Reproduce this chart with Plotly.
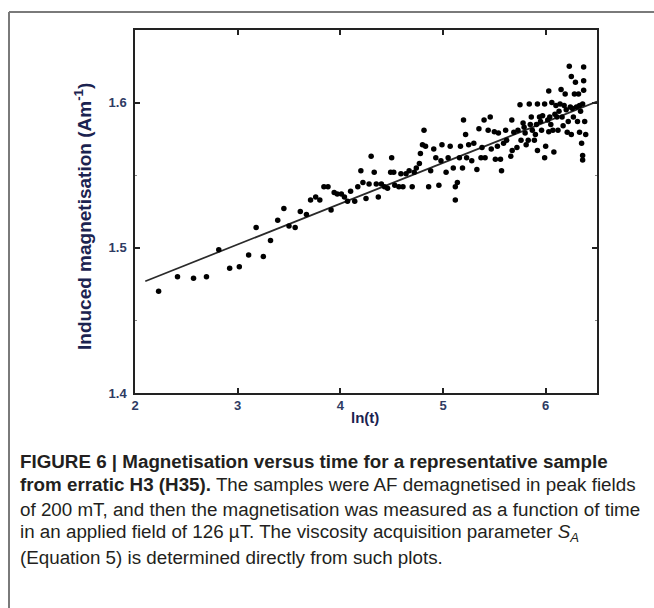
import plotly.graph_objects as go

# ---- data ----
ln_t = [2.23, 2.414, 2.57, 2.696, 2.816, 2.922, 3.016, 3.107, 3.18, 3.25, 3.32, 3.39, 3.45, 3.50, 3.56, 3.61,
        3.67, 3.71, 3.76, 3.80, 3.84, 3.88, 3.91, 3.94, 3.97, 4.01, 4.04, 4.07, 4.10, 4.14, 4.17, 4.20,
        4.22, 4.25, 4.28, 4.30, 4.33, 4.35, 4.37, 4.40, 4.43, 4.46, 4.49, 4.50, 4.52, 4.53, 4.57, 4.59,
        4.61, 4.64, 4.67, 4.70, 4.72, 4.74, 4.77, 4.78, 4.80, 4.815, 4.83, 4.86, 4.88, 4.91, 4.93, 4.96,
        4.98, 4.99, 5.03, 5.05, 5.07, 5.10, 5.12, 5.12, 5.14, 5.16, 5.17, 5.19, 5.20, 5.22, 5.23, 5.25,
        5.28, 5.30, 5.33, 5.35, 5.37, 5.38, 5.40, 5.41, 5.44, 5.46, 5.47, 5.50, 5.51, 5.53, 5.54, 5.56,
        5.57, 5.59, 5.61, 5.62, 5.66, 5.67,
        5.674, 5.69, 5.72, 5.73, 5.75, 5.76, 5.78, 5.80, 5.81, 5.83, 5.84, 5.86, 5.87, 5.89, 5.91, 5.92,
        5.92, 5.94, 5.96, 5.97, 5.99, 5.99, 6.00, 6.03, 6.03, 6.04, 6.06, 6.07, 6.08, 6.10, 6.11, 6.12,
        6.14, 6.15, 6.16, 6.18, 6.19, 6.21, 6.22, 6.23, 6.24, 6.25, 6.25, 6.27, 6.28, 6.29, 6.30, 6.31,
        6.32, 6.33, 6.34, 6.35, 6.36, 6.36, 6.36, 6.37, 6.37, 6.37, 6.38, 6.39,
        5.79, 5.85, 5.95, 6.02, 6.09, 6.13, 6.20, 6.26, 6.33, 5.90, 6.05, 6.17]
magnetisation = [1.470, 1.480, 1.479, 1.480, 1.4987, 1.486, 1.487, 1.495, 1.514, 1.494, 1.505, 1.519, 1.527,
                 1.515, 1.514, 1.525, 1.523, 1.533, 1.535, 1.533, 1.542, 1.542, 1.526, 1.538, 1.537, 1.537,
                 1.535, 1.532, 1.539, 1.532, 1.542, 1.553, 1.545, 1.534, 1.544, 1.563, 1.552, 1.544, 1.535,
                 1.544, 1.542, 1.541, 1.552, 1.562, 1.552, 1.543, 1.542, 1.551, 1.542, 1.551, 1.553, 1.542,
                 1.552, 1.555, 1.558, 1.565, 1.571, 1.581, 1.570, 1.542, 1.553, 1.568, 1.562, 1.543, 1.560,
                 1.571, 1.552, 1.562, 1.570, 1.555, 1.542, 1.533, 1.545, 1.562, 1.570, 1.555, 1.588, 1.578,
                 1.562, 1.571, 1.560, 1.572, 1.554, 1.582, 1.562, 1.569, 1.588, 1.562, 1.581, 1.590, 1.568,
                 1.580, 1.561, 1.570, 1.579, 1.561, 1.553, 1.572, 1.581, 1.574, 1.563, 1.588,
                 1.567, 1.5795, 1.569, 1.581, 1.5985, 1.574, 1.586, 1.579, 1.571, 1.574, 1.599, 1.590, 1.581,
                 1.574, 1.585, 1.599, 1.567, 1.590, 1.581, 1.591, 1.599, 1.562, 1.570, 1.580, 1.608, 1.590,
                 1.600, 1.581, 1.566, 1.598, 1.590, 1.581, 1.599, 1.609, 1.590, 1.598, 1.606, 1.5795, 1.587,
                 1.625, 1.597, 1.618, 1.578, 1.590, 1.606, 1.614, 1.597, 1.587, 1.606, 1.5795, 1.594, 1.572,
                 1.599, 1.5635, 1.5605, 1.6245, 1.615, 1.6085, 1.587, 1.578,
                 1.583, 1.585, 1.587, 1.588, 1.592, 1.594, 1.595, 1.596, 1.598, 1.578, 1.585, 1.584]

fit_x = [2.1, 6.5]
fit_intercept = 1.418
fit_slope = 0.0281
fit_y = [fit_intercept + fit_slope * v for v in fit_x]

x_ticks = [2, 3, 4, 5, 6]
y_ticks = [1.4, 1.5, 1.6]
x_range = [2, 6.5]
y_range = [1.4, 1.65]

caption_lines = [
    "<b>FIGURE 6 | Magnetisation versus time for a representative sample</b>",
    "<b>from erratic H3 (H35).</b> The samples were AF demagnetised in peak fields",
    "of 200 mT, and then the magnetisation was measured as a function of time",
    "in an applied field of 126 \u00b5T. The viscosity acquisition parameter <i>S<sub>A</sub></i>",
    "(Equation 5) is determined directly from such plots.",
]

# ---- layout geometry (page pixels; body margin removed by post_script) ----
W, H = 654, 608
plot_left, plot_right, plot_top, plot_bottom = 135, 597, 30, 393
L, T, R, B = plot_left, plot_top, W - plot_right, H - plot_bottom
PW, PH = W - L - R, H - T - B


def px_x(px):
    return (px - L) / PW


def px_y(py):
    return (H - B - py) / PH


tick_color = "#2e3b63"
title_color = "#1b2350"
font_family = "Liberation Sans, Arial, sans-serif"

fig = go.Figure()
fig.add_trace(go.Scatter(x=fit_x, y=fit_y, mode="lines",
                         line=dict(color="#2a2a2a", width=1.7), hoverinfo="skip", showlegend=False))
fig.add_trace(go.Scatter(x=ln_t, y=magnetisation, mode="markers",
                         marker=dict(color="black", size=5.5, line=dict(width=0)), showlegend=False))

axis_common = dict(showgrid=False, zeroline=False, showline=True, linecolor="#222222", linewidth=1.5,
                   mirror="ticks", ticks="inside", ticklen=5, tickwidth=1.5, tickcolor="#222222",
                   tickfont=dict(family=font_family, size=13, color=tick_color, weight="bold"))

fig.update_xaxes(range=x_range, tickvals=x_ticks, ticktext=[str(v) for v in x_ticks], **axis_common)
fig.update_yaxes(range=y_range, tickvals=y_ticks, ticktext=[f"{v:.1f}" for v in y_ticks],
                 ticklabelstandoff=4,
                 minor=dict(ticks="inside", ticklen=2.5, tickwidth=1, tickcolor="#888888", dtick=0.05,
                            showgrid=False),
                 **axis_common)

annotations = [
    dict(text="<b>ln(t)</b>", x=px_x(365), y=px_y(418), xref="paper", yref="paper",
         showarrow=False, xanchor="center", yanchor="middle",
         font=dict(family=font_family, size=15, color=title_color)),
    dict(text="<b>Induced magnetisation (Am<sup>-1</sup>)</b>", x=px_x(83), y=px_y(217),
         xref="paper", yref="paper", showarrow=False, textangle=-90,
         xanchor="center", yanchor="middle",
         font=dict(family=font_family, size=19, color=title_color)),
]
caption_y = [461, 485, 509, 533, 557]
for line, cy in zip(caption_lines, caption_y):
    annotations.append(dict(text=line, x=px_x(18), y=px_y(cy), xref="paper", yref="paper",
                            showarrow=False, xanchor="left", yanchor="middle", align="left",
                            font=dict(family=font_family, size=18.8, color="#231f20")))

shapes = [
    dict(type="line", xref="paper", yref="paper", x0=px_x(9), x1=px_x(670), y0=px_y(12), y1=px_y(12),
         line=dict(color="#7a7a7a", width=2)),
    dict(type="line", xref="paper", yref="paper", x0=px_x(9), x1=px_x(9), y0=px_y(12), y1=px_y(630),
         line=dict(color="#7a7a7a", width=2)),
]

fig.update_layout(width=W, height=H, margin=dict(l=L, r=R, t=T, b=B),
                  paper_bgcolor="white", plot_bgcolor="white",
                  annotations=annotations, shapes=shapes, showlegend=False)

fig.write_html("out.html", config={"displayModeBar": False},
               post_script="document.body.style.margin='0';document.body.style.overflow='hidden';")
